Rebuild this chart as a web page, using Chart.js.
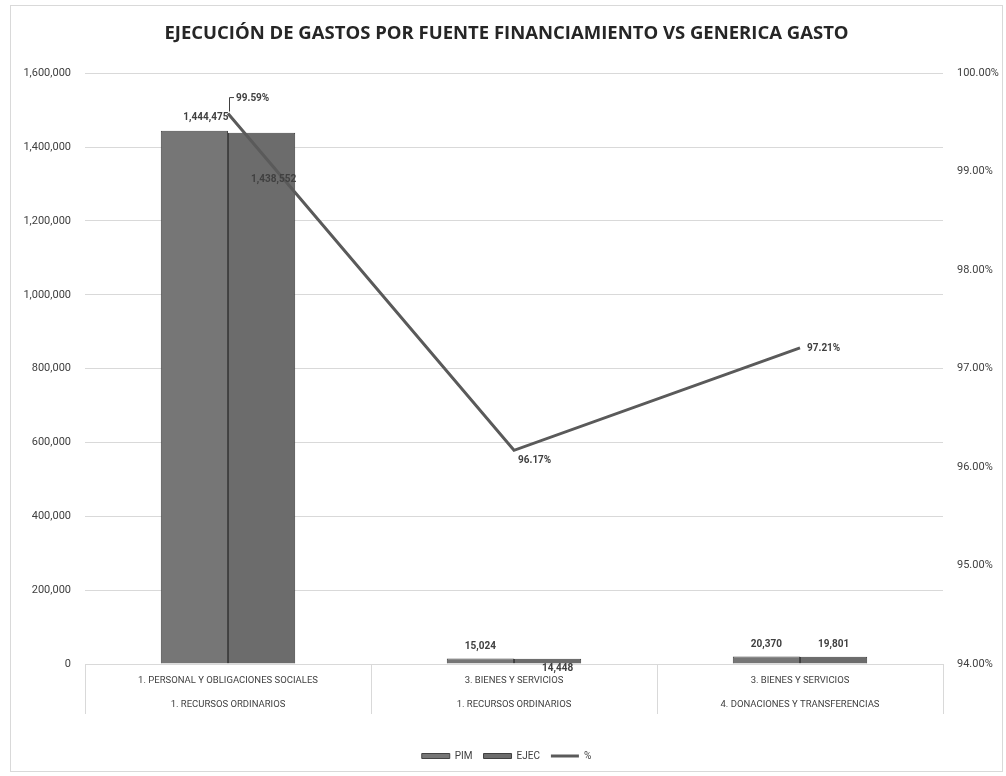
<!DOCTYPE html>
<html>
<head>
<meta charset="utf-8">
<script src="https://cdn.jsdelivr.net/npm/chart.js@4/dist/chart.umd.min.js"></script>
<style>
    body { margin: 0; background: #fff; }
    #caja {
        position: absolute; left: 10px; top: 5px; width: 993px; height: 767px;
        border: 1px solid #d9d9d9; box-sizing: border-box;
    }
</style>
</head>
<body>
<div id="caja"><canvas id="grafico"></canvas></div>
<script>
// Datos del gráfico
const categorias = [
    ['1. PERSONAL Y OBLIGACIONES SOCIALES', '1. RECURSOS ORDINARIOS'],
    ['3. BIENES Y SERVICIOS', '1. RECURSOS ORDINARIOS'],
    ['3. BIENES Y SERVICIOS', '4. DONACIONES Y TRANSFERENCIAS']
];
const valoresPIM = [1444475, 15024, 20370];
const valoresEJEC = [1438552, 14448, 19801];
const porcentajes = [99.59, 96.17, 97.21];

const fuente = "Roboto, 'Liberation Sans', sans-serif";
const fmt = n => n.toLocaleString('en-US');

// Etiquetas de datos y separadores de categorías
const etiquetas = {
    id: 'etiquetas',
    afterDraw(chart) {
        const ctx = chart.ctx;
        const x = chart.scales.x;
        const area = chart.chartArea;
        ctx.save();
        // separadores bajo el eje
        ctx.strokeStyle = '#d9d9d9';
        ctx.lineWidth = 1;
        for (let i = 0; i <= categorias.length; i++) {
            const px = Math.round(x.getPixelForValue(i - 0.5)) + 0.5;
            ctx.beginPath();
            ctx.moveTo(px, area.bottom);
            ctx.lineTo(px, area.bottom + 50);
            ctx.stroke();
        }
        ctx.font = `bold 10px ${fuente}`;
        ctx.fillStyle = '#404040';
        ctx.textBaseline = 'middle';
        const pim = chart.getDatasetMeta(0).data;
        const ejec = chart.getDatasetMeta(1).data;
        const lin = chart.getDatasetMeta(2).data;
        // PIM
        pim.forEach((b, i) => {
            ctx.textAlign = i === 0 ? 'right' : 'center';
            const px = i === 0 ? b.x + 34 : b.x;
            ctx.fillText(fmt(valoresPIM[i]), px, b.y - (i === 0 ? 13 : 12));
        });
        // EJEC
        ejec.forEach((b, i) => {
            ctx.textAlign = 'center';
            if (i === 0) ctx.fillText(fmt(valoresEJEC[i]), b.x + 12, b.y + 47);
            else if (i === 1) ctx.fillText(fmt(valoresEJEC[i]), b.x + 10, b.y + 10);
            else ctx.fillText(fmt(valoresEJEC[i]), b.x, b.y - 12);
        });
        // porcentajes
        ctx.textAlign = 'left';
        lin.forEach((p, i) => {
            const txt = porcentajes[i].toFixed(2) + '%';
            if (i === 0) {
                ctx.strokeStyle = '#404040';
                ctx.beginPath();
                ctx.moveTo(p.x + 1.5, p.y - 2);
                ctx.lineTo(p.x + 1.5, p.y - 16);
                ctx.lineTo(p.x + 6, p.y - 16);
                ctx.stroke();
                ctx.fillText(txt, p.x + 8, p.y - 15);
            } else if (i === 1) {
                ctx.fillText(txt, p.x + 4, p.y + 10);
            } else {
                ctx.fillText(txt, p.x + 7, p.y + 1);
            }
        });
        ctx.restore();
    }
};

new Chart(document.getElementById('grafico'), {
    type: 'bar',
    data: {
        labels: categorias,
        datasets: [
            {
                label: 'PIM',
                data: valoresPIM,
                backgroundColor: '#767676',
                borderColor: '#444444',
                borderWidth: 1,
                categoryPercentage: 0.47,
                barPercentage: 1,
                pointStyle: 'rect',
                yAxisID: 'y',
                order: 2
            },
            {
                label: 'EJEC',
                data: valoresEJEC,
                backgroundColor: '#6c6c6c',
                borderColor: '#404040',
                borderWidth: 1,
                categoryPercentage: 0.47,
                barPercentage: 1,
                pointStyle: 'rect',
                yAxisID: 'y',
                order: 2
            },
            {
                label: '%',
                type: 'line',
                data: porcentajes,
                borderColor: '#5a5a5a',
                backgroundColor: '#5a5a5a',
                borderWidth: 3,
                pointRadius: 0,
                pointStyle: 'line',
                tension: 0,
                yAxisID: 'y1',
                order: 1
            }
        ]
    },
    options: {
        responsive: true,
        maintainAspectRatio: false,
        animation: false,
        layout: { autoPadding: false, padding: { left: 0, right: 0, top: 2, bottom: 0 } },
        scales: {
            x: {
                grid: { display: false },
                border: { color: '#d9d9d9' },
                afterFit: s => { s.height = 76; },
                ticks: {
                    color: '#404040',
                    font: { family: fuente, size: 9.5, lineHeight: 2.6 },
                    padding: -4,
                    maxRotation: 0
                }
            },
            y: {
                min: 0,
                max: 1600000,
                afterFit: s => { s.width = 74; },
                ticks: {
                    stepSize: 200000,
                    color: '#404040',
                    font: { family: fuente, size: 11 },
                    padding: 14,
                    callback: v => fmt(v)
                },
                grid: { color: '#d9d9d9', drawTicks: false },
                border: { display: false }
            },
            y1: {
                position: 'right',
                min: 94,
                max: 100,
                afterFit: s => { s.width = 59; },
                ticks: {
                    stepSize: 1,
                    color: '#404040',
                    font: { family: fuente, size: 11 },
                    padding: 14,
                    callback: v => v.toFixed(2) + '%'
                },
                grid: { drawOnChartArea: false, drawTicks: false },
                border: { display: false }
            }
        },
        plugins: {
            title: {
                display: true,
                text: 'EJECUCIÓN DE GASTOS POR FUENTE FINANCIAMIENTO VS GENERICA GASTO',
                color: '#262626',
                font: { family: "'Open Sans', sans-serif", size: 18.5, weight: 'bold' },
                padding: { top: 15, bottom: 28 }
            },
            legend: {
                position: 'bottom',
                labels: {
                    color: '#404040',
                    font: { family: fuente, size: 10 },
                    usePointStyle: true,
                    pointStyleWidth: 28,
                    boxWidth: 28,
                    boxHeight: 5,
                    padding: 11,
                    sort: (a, b) => a.datasetIndex - b.datasetIndex
                }
            },
            tooltip: { enabled: false }
        }
    },
    plugins: [etiquetas]
});
</script>
</body>
</html>
